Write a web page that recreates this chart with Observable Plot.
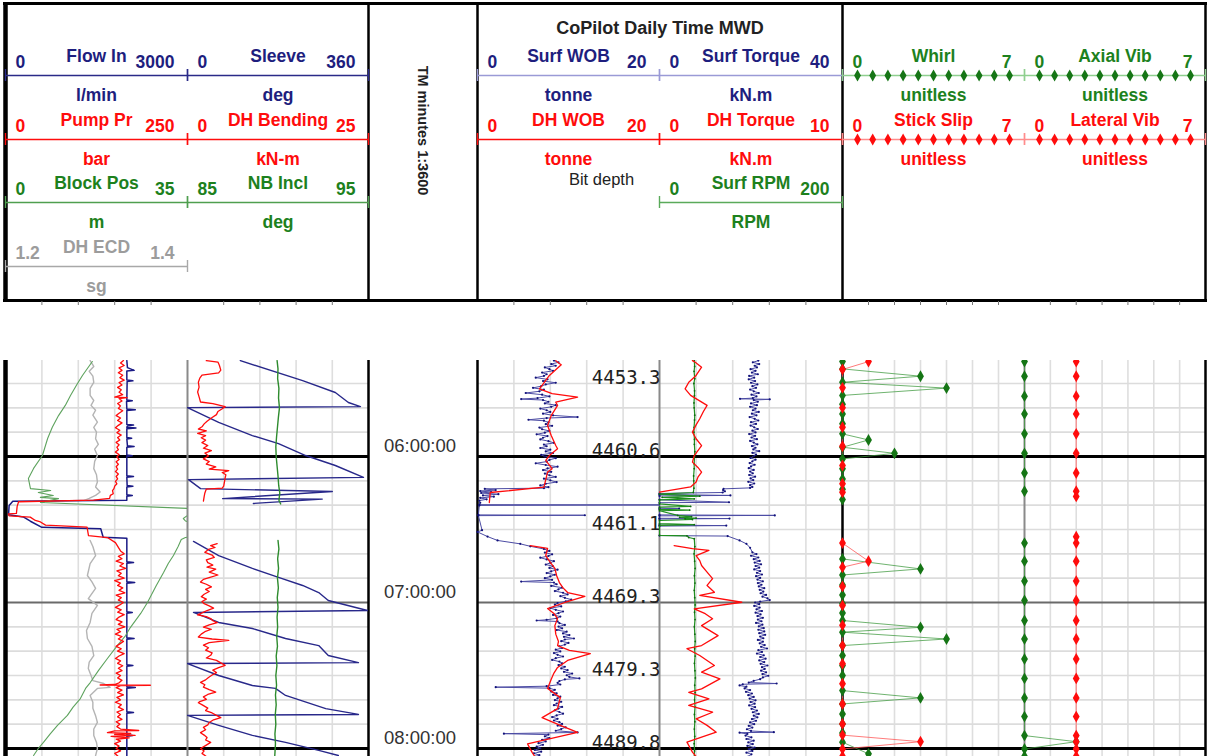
<!DOCTYPE html>
<html><head><meta charset="utf-8">
<script src="https://cdn.jsdelivr.net/npm/d3@7"></script>
<script src="https://cdn.jsdelivr.net/npm/@observablehq/plot@0.6"></script>
<style>
html,body{margin:0;padding:0;background:#fff;}
#root{position:relative;width:1207px;height:756px;overflow:hidden;background:#fff;}
</style></head>
<body><div id="root"></div>
<script>
// ---------- header legend content ----------
const curveNames = ["Flow In","Pump Pr","Block Pos","DH ECD","Sleeve","DH Bending","NB Incl","Surf WOB","DH WOB","Surf Torque","DH Torque","Surf RPM","Whirl","Stick Slip","Axial Vib","Lateral Vib"];
const curveUnits = ["l/min","bar","m","sg","deg","kN-m","deg","tonne","tonne","kN.m","kN.m","RPM","unitless","unitless","unitless","unitless"];
const curveMin = [0,0,0,1.2,0,0,85,0,0,0,0,0,0,0,0,0];
const curveMax = [3000,250,35,1.4,360,25,95,20,20,40,10,200,7,7,7,7];
const headerTitle = "CoPilot Daily Time MWD";
const timeColumnTitle = "TM minutes 1:3600";
const bitDepthTitle = "Bit depth";

// ---------- time axis (minutes since midnight) ----------
const hourTimes = [360, 420, 480];
const bitDepthTimes = [330, 360, 390, 420, 450, 480];
const bitDepthLabels = ["4453.3","4460.6","4461.1","4469.3","4479.3","4489.8"];

// ---------- curve data: [minute, value] ----------
const flowIn = [[320.6,2000],[323.5,2010],[324.6,2120],[324.9,2000],[328.6,2000],[328.9,2100],[329.2,2005],[336.8,2000],[337.1,2090],[337.4,1995],[340.5,2000],[340.8,2140],[341.1,2000],[346.8,2000],[347.1,2110],[347.4,2010],[348.0,2000],[348.3,2150],[348.6,2000],[352.2,2000],[352.5,2080],[352.8,2000],[355.6,2010],[355.9,2120],[356.2,2000],[359.4,2000],[359.7,2090],[360.0,2000],[367.9,2000],[368.2,2110],[368.5,2000],[371.9,2005],[372.2,2100],[372.5,2000],[375.7,2000],[376.0,2090],[376.3,2000],[378.0,2000],[378.4,120],[380.1,60],[383.9,50],[384.9,300],[386.6,410],[389.1,600],[389.7,1570],[393.2,1610],[393.6,2000],[403.3,2000],[403.6,2110],[403.9,2000],[411.5,2000],[411.8,2130],[412.1,2000],[423.8,2000],[424.1,2090],[424.4,2000],[434.5,2000],[434.8,2120],[435.1,2000],[445.6,2000],[445.9,2100],[446.2,2000],[454.6,2000],[454.9,2140],[455.2,2000],[464.9,2000],[465.2,2110],[465.5,2000],[474.4,2000],[474.7,2090],[475.0,2000],[483.3,2000]];
const pumpPr = [[320.6,162],[321.6,158],[322.6,163],[323.6,156],[324.6,160],[325.6,155],[326.6,161],[327.6,157],[328.6,163],[329.6,156],[330.6,160],[331.6,154],[332.6,159],[333.6,156],[334.6,161],[335.6,150],[335.8,167],[336.2,156],[337.2,160],[338.2,154],[339.2,158],[340.2,155],[341.2,161],[342.2,156],[343.2,152],[344.2,158],[345.2,154],[346.2,160],[347.2,155],[348.2,151],[349.2,157],[350.2,153],[351.2,159],[352.2,154],[353.2,157],[354.2,152],[355.2,156],[356.2,153],[357.2,155],[358.2,151],[359.2,156],[360.2,153],[361.2,156],[362.2,152],[363.2,155],[364.2,152],[365.2,154],[366.2,151],[367.2,155],[368.2,152],[369.2,154],[370.2,151],[371.2,153],[372.2,150],[373.2,149],[374.0,147],[375.3,148],[376.0,144],[377.2,143],[377.9,121],[378.6,18],[380.5,16],[383.4,15],[383.6,4],[384.4,5],[384.9,34],[386.3,41],[386.9,48],[388.2,55],[389.0,112],[392.5,114],[393.3,140],[395.4,151],[398.8,158],[400,163],[401,155],[402,160],[403,152],[404,162],[405,157],[406,165],[407,153],[408,159],[409,155],[410,163],[411,150],[412,158],[413,154],[414,161],[415,156],[416,164],[417,152],[418,159],[419,155],[420,162],[421,157],[422,151],[423,159],[424,154],[425,163],[426,156],[427,152],[428,160],[429,155],[430,164],[431,153],[432,158],[433,151],[434,160],[435,155],[436,162],[437,157],[438,152],[439,159],[440,154],[441,163],[442,156],[443,151],[444,158],[445,154],[446,161],[447,155],[448,160],[449,152],[450,158],[451,154],[452,160],[453,156],[453.7,150],[453.9,130],[454.0,199],[454.2,158],[455,152],[456,160],[457,154],[458,162],[459,153],[460,158],[461,151],[462,159],[463,155],[464,162],[465,153],[466,158],[467,154],[468,160],[469,152],[470,157],[471,153],[472,158],[472.6,183],[472.8,150],[473.5,140],[473.8,172],[474.2,150],[474.6,178],[475.0,145],[475.6,170],[476.2,152],[477,158],[478,150],[479,156],[480,152],[481,158],[482,150],[483.3,155]];
const blockPos = [[320.96,16.7],[326.7,14.8],[330.5,13.7],[334.9,12.5],[339.0,11.5],[343.2,10.2],[348.0,9.0],[352.6,8.1],[359.6,7.1],[364.9,5.4],[369.0,4.4],[373.2,4.8],[374.0,8.7],[374.8,6.3],[376.0,9.2],[376.8,6.7],[377.3,10.2],[378.9,6.7],[381.4,36],[384.2,36],[384.5,34.8],[385.5,34.2],[386.5,34.6],[387.2,36],[392.8,36],[393.3,34.6],[394.1,33.8],[397.0,33.2],[400.7,32.3],[404.0,31.3],[407.7,30.4],[413.0,29.0],[420.0,27.3],[424.5,26.0],[430.3,24.0],[433.6,23.1],[437.7,21.5],[443.0,19.6],[447.9,17.9],[452.9,16.3],[455.3,15.4],[459.5,14.4],[463.0,13.0],[466.4,11.9],[470.5,10.0],[474.0,8.6],[477.5,7.3],[480.0,6.3],[482.9,5.4]];
const dhEcd = [[320.6,1.293],[323,1.297],[325,1.292],[327,1.296],[329.5,1.297],[332,1.293],[334.9,1.293],[337,1.297],[339,1.294],[341,1.299],[343,1.296],[345.9,1.301],[348,1.297],[350,1.300],[352.7,1.299],[355,1.302],[357,1.298],[359.6,1.301],[362,1.298],[365,1.297],[367.5,1.300],[370.5,1.301],[372.5,1.299],[374.6,1.304],[376.0,1.299],[377.2,1.292],[378.1,1.286],[378.2,NaN],[394.5,1.293],[397,1.296],[400.7,1.299],[404,1.293],[408.9,1.290],[411.5,1.295],[414.2,1.299],[418.4,1.291],[421.2,1.301],[424.5,1.295],[428.2,1.293],[431.5,1.289],[434.8,1.290],[438,1.295],[441.8,1.297],[444.5,1.292],[447.1,1.291],[450,1.294],[452.1,1.296],[453.3,1.308],[454.9,1.315],[455.3,1.301],[458.2,1.293],[461,1.296],[463.5,1.296],[466.5,1.299],[469.3,1.301],[472,1.297],[474.7,1.297],[477.5,1.300],[480,1.301],[482.9,1.299]];
const sleeve = [[320.6,105],[328.8,229],[333.7,294],[337.8,320],[339.5,344],[339.9,0],[346.0,62],[351.4,129],[354.7,181],[359.6,235],[363.7,294],[368.6,350],[369.5,2],[373.2,26],[374.4,288],[377.3,70],[377.5,268],[379.3,131],[379.4,NaN],[394.9,12],[400.7,62],[406.0,129],[409.7,181],[413.0,229],[415.9,261],[419.2,280],[423.3,358],[424.1,12],[428.2,62],[430.7,129],[434.8,195],[437.7,261],[441.8,280],[444.7,340],[445.1,0],[450.0,62],[454.1,129],[455.3,175],[458.2,195],[463.6,275],[466.0,340],[466.4,0],[470.5,62],[474.6,129],[477.5,195],[480.8,261],[482.9,300]];
const dhBending = [[320.6,2.6],[321.2,4.2],[322.5,4.4],[324.5,4.6],[325.6,4.3],[326.6,2.0],[327.8,1.7],[329.5,1.5],[331.5,1.6],[333.5,1.4],[335.5,1.6],[337.6,1.8],[338.3,3.5],[339.5,5.2],[340.4,4.8],[341.5,4.2],[342.8,4.0],[344.0,3.4],[345.5,2.7],[346.6,2.3],[347.8,2.0],[348.7,1.5],[349.5,2.6],[350.5,1.4],[351.4,2.5],[352.3,1.9],[353.3,2.5],[354.3,2.0],[355.5,2.8],[356.6,2.2],[357.6,3.3],[358.6,2.4],[359.8,2.9],[361.0,2.2],[362.1,3.0],[363.1,2.6],[364.3,3.9],[365.2,3.0],[365.8,5.7],[366.6,4.8],[367.5,5.3],[368.8,5.2],[370.5,5.1],[372.2,5.0],[373.0,4.8],[373.4,2.6],[375.0,2.4],[376.5,2.3],[378.3,2.2],[378.4,NaN],[395.8,4.1],[396.6,3.2],[397.4,3.8],[398.2,2.9],[399.4,2.4],[400.5,3.4],[401.5,3.7],[402.5,2.6],[403.6,2.8],[404.6,3.5],[405.5,2.7],[406.3,3.9],[407.5,3.0],[408.7,4.2],[409.7,3.1],[410.5,2.2],[411.6,1.8],[412.5,2.6],[413.6,3.3],[414.6,2.5],[415.5,3.0],[416.6,2.3],[417.6,1.9],[418.6,2.6],[419.6,2.0],[420.5,2.3],[421.4,3.0],[422.3,3.6],[423.3,2.7],[424.3,2.0],[425.1,1.4],[425.8,2.6],[426.6,3.2],[427.5,3.5],[428.3,4.1],[429.2,3.0],[430.1,2.2],[431.0,3.3],[432.0,2.4],[433.0,1.9],[434.2,1.5],[435.0,3.4],[435.6,5.7],[436.5,3.0],[437.5,2.2],[438.6,2.9],[439.6,2.5],[440.7,3.4],[441.7,3.2],[442.8,2.6],[443.8,4.0],[444.8,4.6],[445.8,5.2],[446.8,4.3],[447.8,3.5],[448.8,4.0],[449.8,3.4],[450.8,2.9],[451.8,2.5],[452.8,1.8],[453.8,2.4],[454.8,2.2],[455.8,3.0],[456.8,3.9],[457.8,2.8],[458.8,2.2],[459.8,2.6],[460.7,1.7],[461.2,1.5],[462.2,2.1],[463.4,2.8],[464.4,2.5],[465.4,3.4],[466.4,4.0],[467.3,4.6],[468.2,3.6],[469.3,3.0],[470.3,2.8],[471.3,2.2],[472.3,2.5],[473.5,1.8],[474.5,2.3],[475.5,2.7],[476.5,2.5],[477.5,3.2],[478.6,2.6],[480.0,1.8],[481.0,2.3],[482.0,2.0],[483.3,2.6]];
const nbIncl = [[320.6,89.95],[324,90.0],[328,89.98],[332,90.05],[336,90.03],[340,90.08],[344,90.02],[348,89.97],[352,89.92],[356,89.88],[360,89.9],[364,89.95],[368,90.0],[372,90.04],[375,90.1],[378,90.05],[379.5,90.15],[379.6,NaN],[394.5,90.0],[398,90.05],[402,89.98],[406,90.03],[410,89.97],[414,90.02],[418,89.96],[422,90.0],[426,89.95],[430,89.98],[434,89.93],[438,89.97],[442,89.9],[446,89.94],[450,89.88],[454,89.92],[458,89.86],[462,89.9],[466,89.85],[470,89.88],[474,89.83],[478,89.86],[483.3,89.82]];
const surfWob = [[320.6,8.4],[321.3,8.9],[322.0,8.1],[322.7,8.6],[323.4,7.4],[324.1,7.9],[324.8,8.3],[325.5,7.1],[326.2,7.6],[326.9,7.3],[327.6,6.4],[328.3,7.7],[329.0,7.2],[329.7,8.6],[330.4,7.5],[331.1,7.0],[331.8,6.1],[332.5,7.3],[333.2,6.8],[333.9,5.3],[334.6,7.1],[335.3,7.9],[336.0,6.6],[336.4,4.8],[336.8,7.2],[337.5,7.8],[338.2,7.4],[338.9,8.6],[339.6,8.1],[340.3,6.9],[341.0,7.6],[341.7,8.0],[342.4,7.2],[343.1,8.3],[343.8,11.0],[344.2,7.6],[344.9,5.6],[345.3,7.3],[346.0,7.8],[346.7,7.5],[347.4,8.2],[348.1,6.8],[348.8,7.1],[349.5,7.9],[350.2,7.4],[350.9,6.5],[351.6,7.7],[352.3,7.2],[353.0,6.9],[353.7,7.8],[354.4,8.4],[355.1,7.3],[355.8,7.6],[356.5,6.9],[357.2,8.0],[357.9,7.5],[358.6,8.3],[359.3,7.0],[360.0,7.4],[360.7,8.6],[361.4,7.9],[362.1,7.6],[362.8,6.4],[363.5,7.5],[364.2,8.8],[364.9,7.7],[365.6,7.2],[366.3,8.1],[367.0,7.4],[367.7,7.9],[368.4,8.6],[369.1,7.3],[369.8,8.0],[370.5,8.7],[371.2,7.5],[371.9,6.9],[372.6,7.8],[373.0,7.3],[373.3,0.8],[373.8,2.0],[374.2,0.3],[374.6,1.5],[375.0,0.4],[375.5,2.3],[376.0,0.6],[376.5,1.8],[377.0,0.3],[377.6,1.0],[378.1,0.2],[379.0,0.3],[379.8,0.2],[379.9,22],[380.1,0.2],[384.0,0.1],[384.15,11.8],[384.3,0.1],[390.3,0.5],[391.0,0.0],[392.9,1.1],[394.5,2.2],[395.9,4.7],[396.9,5.8],[398.0,7.3],[398.8,7.9],[399.5,7.4],[400.2,8.2],[400.9,7.8],[401.6,6.9],[402.3,7.6],[403.0,8.4],[403.7,8.0],[404.4,7.5],[405.1,8.3],[405.8,7.9],[406.5,8.8],[407.2,8.1],[407.9,7.6],[408.6,8.5],[409.3,8.0],[410.0,7.4],[410.7,8.2],[411.4,4.8],[411.8,8.4],[412.5,8.7],[413.2,8.1],[413.9,9.3],[414.6,8.9],[415.3,8.5],[416.0,9.4],[416.7,9.9],[417.4,9.1],[418.1,9.6],[418.8,10.3],[419.5,9.7],[420.2,8.8],[420.9,8.5],[421.6,9.2],[422.3,8.0],[423.0,8.6],[423.7,9.4],[424.4,8.9],[425.1,8.3],[425.8,9.1],[426.5,8.7],[427.1,7.6],[427.4,6.5],[427.8,8.8],[428.5,9.0],[429.2,9.6],[429.9,8.9],[430.6,9.3],[431.3,8.7],[432.0,9.8],[432.7,9.4],[433.4,10.1],[434.1,9.5],[434.8,10.6],[435.2,9.6],[435.9,9.2],[436.6,10.0],[437.3,9.6],[438.0,9.0],[438.7,9.3],[439.4,8.6],[440.1,9.1],[440.8,8.4],[441.5,8.8],[442.2,9.4],[442.9,8.6],[443.6,8.2],[444.3,9.0],[445.0,9.3],[445.7,8.9],[446.4,9.6],[447.1,9.2],[447.8,9.9],[448.5,9.5],[449.2,10.4],[449.9,9.8],[450.6,10.1],[451.2,11.2],[451.6,9.6],[452.3,9.0],[453.0,8.8],[453.7,9.1],[454.4,7.6],[454.8,2.0],[455.2,7.9],[455.9,8.5],[456.6,8.1],[457.3,8.7],[458.0,8.3],[458.7,9.1],[459.4,8.8],[460.1,8.5],[460.8,9.2],[461.5,8.7],[462.2,8.4],[462.9,9.3],[463.6,8.9],[464.3,8.5],[465.0,9.0],[465.7,9.4],[466.4,8.7],[467.1,8.2],[467.8,8.8],[468.5,8.4],[469.2,9.0],[469.9,9.3],[470.6,8.8],[471.3,9.7],[472.0,9.2],[472.7,8.6],[473.4,11.0],[473.9,2.9],[474.3,7.8],[475.0,7.4],[475.7,7.9],[476.4,7.1],[477.1,7.5],[477.8,6.7],[478.5,7.2],[479.2,6.5],[479.9,6.9],[480.6,6.3],[481.3,7.0],[482.0,6.2],[482.7,6.8],[483.3,6.4]];
const dhWob = [[320.6,8.6],[321.25,8.8],[322.3,9.2],[326.7,7.9],[330.8,7.1],[332.2,6.8],[334.2,8.2],[335.6,11.0],[337.7,8.6],[339.0,8.8],[343.2,8.1],[347.3,7.7],[351.4,8.1],[355.5,8.6],[356.8,8.8],[359.6,7.9],[361.6,7.5],[365.0,8.2],[366.4,7.7],[372.6,7.3],[374.8,1.4],[378.9,1.3],[379.0,NaN],[396.6,5.8],[397.8,7.7],[400.7,7.5],[403.5,8.0],[406.0,8.5],[409.0,8.7],[411.8,9.0],[414.0,9.4],[415.9,9.9],[417.5,11.8],[420.0,9.6],[422.5,7.7],[424.5,8.4],[426.6,8.8],[429.5,8.5],[433.0,8.6],[436.0,8.9],[437.7,8.8],[439.7,10.1],[441.0,12.4],[443.8,9.9],[446.7,8.8],[449.0,8.4],[451.5,8.1],[455.3,7.7],[459.1,9.1],[463.6,8.8],[467.3,7.1],[470.5,9.1],[473.4,11.0],[478.1,5.5],[481.6,6.0],[483.3,6.3]];
const surfTorque = [[320.6,21.6],[321.3,20.4],[322.0,21.8],[322.7,20.8],[323.4,21.3],[324.1,19.9],[324.8,21.0],[325.5,20.2],[326.2,21.5],[326.9,19.6],[327.6,20.7],[328.3,19.5],[329.0,20.9],[329.7,20.0],[330.4,21.4],[331.1,20.3],[331.8,21.1],[332.5,19.8],[333.2,20.6],[333.9,21.7],[334.6,20.1],[335.3,21.2],[336.0,20.4],[336.3,17.6],[336.5,24.1],[336.8,20.6],[337.5,21.5],[338.2,20.0],[338.9,21.3],[339.6,19.8],[340.3,21.0],[341.0,20.4],[341.7,21.7],[342.4,20.2],[343.1,21.2],[343.8,19.7],[344.5,20.8],[345.2,21.6],[345.9,20.0],[346.6,21.1],[347.3,19.9],[348.0,20.7],[348.7,21.5],[349.4,20.3],[350.1,21.0],[350.8,19.6],[351.5,20.9],[352.2,20.1],[352.9,21.3],[353.6,19.8],[354.3,20.6],[355.0,21.4],[355.7,20.2],[356.4,21.0],[357.1,20.5],[357.8,21.8],[358.5,20.3],[359.2,21.1],[359.9,20.6],[360.6,19.9],[361.3,21.0],[362.0,20.3],[362.7,19.7],[363.4,20.8],[364.1,20.0],[364.8,19.5],[365.5,20.6],[366.2,19.8],[366.9,20.4],[367.6,19.6],[368.3,20.9],[369.0,19.9],[369.7,20.5],[370.4,19.4],[371.1,20.7],[371.8,19.8],[372.5,20.3],[372.9,19.8],[373.3,14.0],[373.8,13.9],[374.3,14.3],[374.8,13.8],[375.2,0],[375.6,0],[376.0,15.5],[376.2,0],[377.8,0],[378.8,15.2],[379.0,0],[381.2,0],[381.4,4.3],[381.6,0],[384.0,0],[384.2,25.2],[384.4,0],[385.4,0],[385.5,15.3],[385.7,0],[388.2,0],[388.4,14.6],[388.6,0],[392.5,0],[392.7,14.9],[394.5,17.5],[395.9,19.0],[397.5,19.8],[399.4,20.3],[400.1,21.2],[400.8,20.0],[401.5,21.6],[402.2,20.6],[402.9,21.9],[403.6,20.8],[404.3,22.2],[405.0,21.0],[405.7,21.8],[406.4,20.7],[407.1,22.0],[407.8,21.3],[408.5,22.4],[409.2,21.1],[409.9,22.0],[410.6,21.4],[411.3,22.6],[412.0,21.5],[412.7,22.3],[413.4,21.7],[414.1,22.9],[414.8,21.9],[415.5,22.7],[416.2,22.1],[416.9,23.3],[417.6,22.5],[418.3,23.6],[419.0,24.1],[419.6,22.0],[420.0,20.9],[420.7,21.8],[421.4,20.7],[422.1,21.9],[422.8,21.2],[423.5,22.4],[424.2,21.0],[424.9,22.1],[425.6,21.4],[426.3,22.6],[427.0,21.5],[427.7,22.3],[428.4,21.1],[429.1,22.5],[429.8,21.7],[430.5,22.8],[431.2,21.6],[431.9,22.9],[432.6,21.8],[433.3,23.1],[434.0,22.0],[434.7,22.7],[435.4,21.5],[436.1,22.6],[436.8,21.9],[437.5,23.0],[438.2,22.2],[438.9,23.5],[439.6,21.6],[440.3,22.4],[441.0,21.3],[441.7,22.8],[442.4,22.0],[443.1,23.2],[443.8,21.8],[444.5,22.9],[445.2,22.1],[445.9,23.6],[446.6,22.4],[447.3,23.0],[448.0,22.2],[448.7,23.3],[449.4,22.5],[450.1,23.8],[450.8,22.6],[451.5,22.0],[452.2,20.6],[452.9,19.5],[453.3,25.6],[453.6,18.2],[454.1,17.5],[454.6,19.0],[455.3,18.6],[456.0,19.8],[456.7,18.9],[457.4,20.2],[458.1,19.4],[458.8,20.6],[459.5,19.7],[460.2,21.0],[460.9,19.9],[461.6,20.8],[462.3,19.6],[463.0,20.9],[463.7,20.1],[464.4,21.3],[465.1,20.4],[465.8,21.7],[466.5,20.6],[467.2,21.4],[467.9,20.2],[468.6,21.1],[469.3,19.8],[470.0,20.7],[470.7,19.5],[471.4,20.3],[472.1,19.1],[472.8,20.0],[473.3,25.0],[473.5,17.5],[474.0,19.2],[474.7,18.8],[475.4,20.1],[476.1,19.0],[476.8,20.6],[477.5,19.4],[478.2,20.4],[478.9,19.2],[479.6,20.8],[480.3,19.5],[481.0,20.3],[481.7,19.0],[482.4,20.1],[483.3,19.4]];
const dhTorque = [[320.6,1.8],[321.0,1.9],[323.3,2.3],[326.7,2.0],[329.5,1.6],[332.2,1.4],[334.9,1.7],[339.0,2.6],[341.5,2.4],[344.5,2.2],[347.0,2.0],[350.0,1.8],[352.7,2.0],[355.5,2.3],[359.6,1.9],[362.3,1.8],[364.5,2.1],[366.4,2.3],[368.5,2.1],[370.5,2.0],[372.5,1.7],[374.6,0.0],[374.7,NaN],[396.6,0.8],[397.9,1.8],[398.6,2.7],[400.7,2.0],[402.8,2.2],[404.8,2.3],[407.5,2.6],[410.2,2.9],[413.0,2.6],[415.8,3.0],[417.1,2.2],[419.9,4.5],[422.6,1.9],[424.6,2.5],[426.7,2.9],[429.5,2.3],[433.6,3.2],[437.7,2.3],[439.0,1.5],[441.8,2.2],[445.9,3.0],[448.6,2.3],[451.4,3.3],[455.5,2.3],[456.9,1.6],[459.6,2.7],[462.3,1.6],[465.1,2.9],[467.8,2.0],[470.5,2.6],[473.3,3.1],[477.4,1.5],[481.5,1.8],[483.3,2.0]];
const surfRpm = [[320.6,38],[323,38.4],[325,37.8],[328,38.5],[330,37.6],[333,38.3],[335,38.2],[338,37.7],[340,37.9],[343,38.5],[345,38.3],[348,37.8],[350,37.6],[353,38.2],[355,38.1],[358,38.6],[360,38.3],[363,37.9],[365,37.9],[368,37.3],[370,37.4],[373,37.6],[374.8,37],[375.5,0],[376.3,44],[376.8,3],[377.4,38],[377.8,0],[379.5,0],[380.5,34],[380.8,0],[381.7,0],[382.0,33],[382.3,0],[384.2,20],[384.7,35],[385.0,22],[385.3,40],[385.6,28],[385.9,36],[386.3,0],[387.6,0],[388.0,38],[388.3,0],[392.4,0],[392.6,30],[393.3,32],[393.8,38],[397,38.6],[400,37.8],[403,38.4],[406,38.9],[409,38.2],[412,38.7],[415,38.0],[418,38.5],[421,38.9],[424,38.3],[427,38.8],[430,38.1],[433,38.6],[436,39.0],[439,38.4],[442,38.9],[445,38.2],[448,38.7],[451,39.1],[454,38.5],[457,38.9],[460,38.3],[463,38.8],[466,38.2],[469,38.6],[472,38.1],[475,38.5],[478,37.9],[481,38.3],[483.3,38.0]];
const whirl = [[321.0,0],[324.0,0],[327.0,3],[329.5,0],[331.9,4],[334.9,0],[338.5,0],[342.5,0],[346.5,0],[350.7,0],[353.2,1],[356.2,0],[358.7,2],[361.0,0],[365.0,0],[369.2,0],[373.5,0],[377.7,0],[377.8,NaN],[402.1,0],[406.2,3],[408.7,0],[412.8,0],[416.9,0],[420.5,0],[424.3,0],[427.4,0],[430.2,3],[432.2,0],[435.0,4],[437.7,0],[441.8,0],[445.9,0],[450.0,0],[456.2,0],[459.2,3],[461.7,0],[465.8,0],[469.9,0],[473.6,0],[477.4,0],[482.2,1]];
const stickSlip = [[321.0,1],[324.25,0],[331.8,0],[340.0,0],[348.0,0],[355.8,0],[363.7,0],[371.2,0],[374.7,0],[374.8,NaN],[395.6,0],[403.0,1],[405.5,0],[413.4,0],[421.2,0],[429.4,0],[437.7,0],[445.2,0],[453.4,0],[461.7,0],[469.9,0],[474.5,0],[477.2,3],[480.2,0],[483.2,0]];
const axialVib = [[321.0,0],[327.0,0],[335.2,0],[342.5,0],[350.7,0],[358.7,0],[366.8,0],[374.3,0],[374.4,NaN],[395.6,0],[403.0,0],[411.2,0],[419.2,0],[427.4,0],[435.0,0],[443.2,0],[451.2,0],[459.2,0],[466.9,0],[474.7,0],[477.2,2],[480.2,0],[483.2,0]];
const lateralVib = [[321.0,2],[327.0,2],[335.2,2],[342.5,2],[350.7,2],[358.7,2],[366.8,2],[374.3,2],[376.4,2],[376.5,NaN],[393.0,2],[395.6,2],[403.0,2],[411.2,2],[419.2,2],[427.4,2],[435.0,2],[443.2,2],[451.2,2],[459.2,2],[466.9,2],[474.7,2],[477.2,2],[480.2,2],[483.2,2]];

// ---------- layout & styles (not data) ----------
const W = 1207, H = 756;
const BODY_TOP = 360, BODY_H = 396;
const T0 = 320.55, T1 = 483.29;      // minutes at top / bottom of body
const HEADER_TOP = 3, HEADER_BOTTOM = 300, HEADER_H = 306;
const TRACK = {L1:[5,187], L2:[187,368], T:[368,477], M1:[477,659], M2:[659,842], R1:[842,1024], R2:[1024,1205]};
const GRID_N = {L1:5, L2:5, M1:5, M2:5, R1:7, R2:7};
const GRID_DOMAIN = {L1:[0,3000], L2:[0,360], M1:[0,20], M2:[0,40], R1:[0,7], R2:[0,7]};
const ROW_Y = [75,139,202,266];
const legendSlots = [["L1",0],["L1",1],["L1",2],["L1",3],["L2",0],["L2",1],["L2",2],["M1",0],["M1",1],["M2",0],["M2",1],["M2",2],["R1",0],["R1",1],["R2",0],["R2",1]];
const NAVY = "#1e1e7e", RED = "#ff0c0c", GREEN = "#1d811d", GRAY = "#9c9c9c";
const FONT = "Liberation Sans, Arial, sans-serif";
const textColor = [NAVY,RED,GREEN,GRAY,NAVY,RED,GREEN,NAVY,RED,NAVY,RED,GREEN,GREEN,RED,GREEN,RED];
const lineColor = ["#2a2a88",RED,"#4f9f4f","#a8a8a8","#2a2a88",RED,"#4f9f4f","#9a9ad6",RED,"#9a9ad6",RED,"#5aaa5a","#8fcf8f","#ff8c8c","#8fcf8f","#ff8c8c"];
const markerColor = [null,null,null,null,null,null,null,null,null,null,null,null,"#157515",RED,"#157515",RED];
const PAD = 8;

const root = document.getElementById("root");
function mount(el, left, top) {
  el.style.position = "absolute";
  el.style.left = left + "px";
  el.style.top = top + "px";
  el.style.overflow = "hidden";
  el.style.maxWidth = "none";
  root.appendChild(el);
}
function bodyPlot(track, domain, marks) {
  const [a, b] = TRACK[track];
  const el = Plot.plot({
    width: (b - a) + 2 * PAD, height: BODY_H,
    marginLeft: PAD, marginRight: PAD, marginTop: 0, marginBottom: 0,
    x: {domain, axis: null},
    y: {domain: [T0, T1], range: [0, BODY_H], axis: null},
    marks
  });
  mount(el, a - PAD, BODY_TOP);
}
const X = d => d[1], Y = d => d[0];
const minorTimes = d3.range(330, 481, 10).filter(t => t % 60 !== 0);
function gridMarks(track) {
  const domain = GRID_DOMAIN[track];
  const n = GRID_N[track];
  const step = (domain[1] - domain[0]) / n;
  const xs = d3.range(1, n).map(k => domain[0] + k * step);
  return [
    Plot.ruleX(xs, {stroke: "#dedede", strokeWidth: 1.6}),
    Plot.ruleY(minorTimes, {stroke: "#dcdcdc", strokeWidth: 1.6}),
    Plot.ruleY(hourTimes.filter(t => (t / 60) % 2 === 0), {stroke: "#000", strokeWidth: 3}),
    Plot.ruleY(hourTimes.filter(t => (t / 60) % 2 === 1), {stroke: "#6a6a6a", strokeWidth: 2})
  ];
}
const lineOpts = (stroke, strokeWidth, extra = {}) => ({x: X, y: Y, stroke, strokeWidth, clip: true, ...extra});

// 1) grids
for (const k of Object.keys(GRID_N)) bodyPlot(k, GRID_DOMAIN[k], gridMarks(k));

// 2) body borders & dividers (under the curves)
const trackEdges = [TRACK.L2[1], TRACK.T[1], TRACK.M2[1]];
const rightEdge = TRACK.R2[1];
const dividers = [TRACK.L1[1], TRACK.M1[1], TRACK.R1[1]];
{
  const el = Plot.plot({
    width: W, height: BODY_H, margin: 0,
    x: {type: "identity", axis: null}, y: {type: "identity", axis: null},
    marks: [
      Plot.ruleX(dividers, {y1: 0, y2: BODY_H, stroke: "#8a8a8a", strokeWidth: 2}),
      Plot.ruleX(trackEdges, {y1: 0, y2: BODY_H, stroke: "#000", strokeWidth: 2.5}),
      Plot.ruleX([rightEdge], {y1: 0, y2: BODY_H, stroke: "#000", strokeWidth: 2.5}),
      Plot.ruleX([TRACK.L1[0]], {y1: 0, y2: BODY_H, stroke: "#000", strokeWidth: 4.5})
    ]
  });
  mount(el, 0, BODY_TOP);
}

// 3) curves
bodyPlot("L1", [0, 3000], [Plot.line(flowIn, lineOpts("#1a1a85", 1.5))]);
bodyPlot("L1", [1.2, 1.4], [Plot.line(dhEcd, lineOpts("#b4b4b4", 1.4))]);
bodyPlot("L1", [0, 35], [Plot.line(blockPos, lineOpts("#5ea35e", 1.1))]);
bodyPlot("L1", [0, 250], [Plot.line(pumpPr, lineOpts(RED, 1.3))]);
bodyPlot("L2", [0, 360], [Plot.line(sleeve, lineOpts("#28288a", 1.4))]);
bodyPlot("L2", [85, 95], [Plot.line(nbIncl, lineOpts("#2e8b2e", 1.4))]);
bodyPlot("L2", [0, 25], [Plot.line(dhBending, lineOpts(RED, 1.3))]);
{
  const el = Plot.plot({
    width: TRACK.T[1] - TRACK.T[0], height: BODY_H, margin: 0,
    y: {domain: [T0, T1], range: [0, BODY_H], axis: null},
    marks: [Plot.text(hourTimes, {y: d => d, text: d => String(d / 60).padStart(2, "0") + ":00:00", frameAnchor: "middle", dx: -3, dy: -4, lineAnchor: "bottom", fontSize: 18.5, fontFamily: FONT, fill: "#333"})]
  });
  mount(el, TRACK.T[0], BODY_TOP);
}
bodyPlot("M1", [0, 20], [
  Plot.text(bitDepthTimes, {y: d => d, x: 20, text: (d, i) => bitDepthLabels[i], textAnchor: "end", lineAnchor: "bottom", dy: 1, dx: 1, fontSize: 19, fontFamily: "DejaVu Sans Mono, Liberation Mono, monospace", fill: "#222"}),
  Plot.line(surfWob, lineOpts("#4c4ca4", 1)),
  Plot.dot(surfWob, {x: X, y: Y, r: 1.1, fill: "#12127a", stroke: null})
]);
bodyPlot("M1", [0, 20], [Plot.line(dhWob, lineOpts(RED, 1.3))]);
bodyPlot("M2", [0, 40], [
  Plot.line(surfTorque, lineOpts("#4c4ca4", 1)),
  Plot.dot(surfTorque, {x: X, y: Y, r: 1.1, fill: "#12127a", stroke: null})
]);
bodyPlot("M2", [0, 200], [Plot.line(surfRpm, lineOpts("#1f8f1f", 1.2)), Plot.dot(surfRpm, {x: X, y: Y, r: 0.9, fill: "#0f6a0f", stroke: null})]);
bodyPlot("M2", [0, 10], [Plot.line(dhTorque, lineOpts(RED, 1.3))]);
bodyPlot("R1", [0, 7], [
  Plot.line(whirl, lineOpts("#3f9a3f", 1, {strokeOpacity: 0.75})),
  Plot.line(stickSlip, lineOpts("#ff5a5a", 1, {strokeOpacity: 0.8})),
  Plot.dot(whirl, {x: X, y: Y, symbol: "diamond", r: 3.6, fill: "#157515", stroke: null}),
  Plot.dot(stickSlip, {x: X, y: Y, symbol: "diamond", r: 3.6, fill: RED, stroke: null})
]);
bodyPlot("R2", [0, 7], [
  Plot.line(axialVib, lineOpts("#3f9a3f", 1, {strokeOpacity: 0.75})),
  Plot.line(lateralVib, lineOpts("#ff7070", 1.2, {strokeOpacity: 0.8})),
  Plot.dot(axialVib, {x: X, y: Y, symbol: "diamond", r: 3.6, fill: "#157515", stroke: null}),
  Plot.dot(lateralVib, {x: X, y: Y, symbol: "diamond", r: 3.6, fill: RED, stroke: null})
]);

// 4) header (identity scales from the layout)
const legend = curveNames.map((name, i) => {
  const [tr, row] = legendSlots[i];
  const [a, b] = TRACK[tr];
  return {name, unit: curveUnits[i], lo: String(curveMin[i]), hi: String(curveMax[i]), a, b, c: (a + b) / 2, L: ROW_Y[row], color: textColor[i], line: lineColor[i], marker: markerColor[i]};
});
const legendTicks = legend.flatMap(d => [{x: d.a, L: d.L, color: d.line}, {x: d.b, L: d.L, color: d.line}]);
const legendDiamonds = legend.filter(d => d.marker).flatMap(d => d3.range(11).map(k => ({x: d.a + 15 + k * (d.b - d.a - 30) / 10, y: d.L, color: d.marker})));
const headerTicks = Object.keys(GRID_N).flatMap(k => { const [a, b] = TRACK[k]; const n = GRID_N[k]; return d3.range(1, n).map(j => a + j * (b - a) / n); });
const txt = {fontFamily: FONT, fontWeight: "bold", fontSize: 17.5, lineAnchor: "bottom"};
const header = Plot.plot({
  width: W, height: HEADER_H, margin: 0,
  x: {type: "identity", axis: null}, y: {type: "identity", axis: null}, color: {type: "identity"},
  marks: [
    Plot.ruleY([HEADER_TOP], {x1: 3, x2: W, stroke: "#000", strokeWidth: 3}),
    Plot.ruleY([HEADER_BOTTOM], {x1: 3, x2: W, stroke: "#000", strokeWidth: 3}),
    Plot.ruleX(trackEdges, {y1: HEADER_TOP, y2: HEADER_BOTTOM, stroke: "#000", strokeWidth: 2.5}),
    Plot.ruleX([rightEdge], {y1: HEADER_TOP, y2: HEADER_BOTTOM, stroke: "#000", strokeWidth: 2.5}),
    Plot.ruleX([TRACK.L1[0]], {y1: HEADER_TOP - 1, y2: HEADER_BOTTOM + 1.5, stroke: "#000", strokeWidth: 4.5}),
    Plot.ruleX(headerTicks, {y1: HEADER_BOTTOM + 1, y2: HEADER_BOTTOM + 5, stroke: "#777", strokeWidth: 1}),
    Plot.ruleY(legend, {x1: "a", x2: "b", y: "L", stroke: "line", strokeWidth: 1.4}),
    Plot.ruleX(legendTicks, {x: "x", y1: d => d.L - 6, y2: d => d.L + 6, stroke: "color", strokeWidth: 1.4}),
    Plot.dot(legendDiamonds, {x: "x", y: "y", symbol: "diamond", r: 3.6, fill: "color", stroke: null}),
    Plot.text(legend, {x: "c", y: d => d.L - 14, text: "name", fill: "color", textAnchor: "middle", ...txt}),
    Plot.text(legend, {x: d => d.a + 10, y: d => d.L - 8, text: "lo", fill: "color", textAnchor: "start", ...txt}),
    Plot.text(legend, {x: d => d.b - 13, y: d => d.L - 8, text: "hi", fill: "color", textAnchor: "end", ...txt}),
    Plot.text(legend, {x: "c", y: d => d.L + 25, text: "unit", fill: "color", textAnchor: "middle", ...txt}),
    Plot.text([headerTitle], {x: (TRACK.M1[0] + TRACK.M2[1]) / 2, y: 33, text: d => d, fill: "#222", textAnchor: "middle", fontFamily: FONT, fontWeight: "bold", fontSize: 18, lineAnchor: "bottom"}),
    Plot.text([bitDepthTitle], {x: TRACK.M1[0] + 124, y: 184, text: d => d, fill: "#222", textAnchor: "middle", fontFamily: FONT, fontSize: 16.5, lineAnchor: "bottom"}),
    Plot.text([timeColumnTitle], {x: (TRACK.T[0] + TRACK.T[1]) / 2, y: 130, text: d => d, fill: "#222", rotate: 90, textAnchor: "middle", lineAnchor: "middle", fontFamily: FONT, fontWeight: "bold", fontSize: 14.5})
  ]
});
mount(header, 0, 0);
</script>
</body></html>
